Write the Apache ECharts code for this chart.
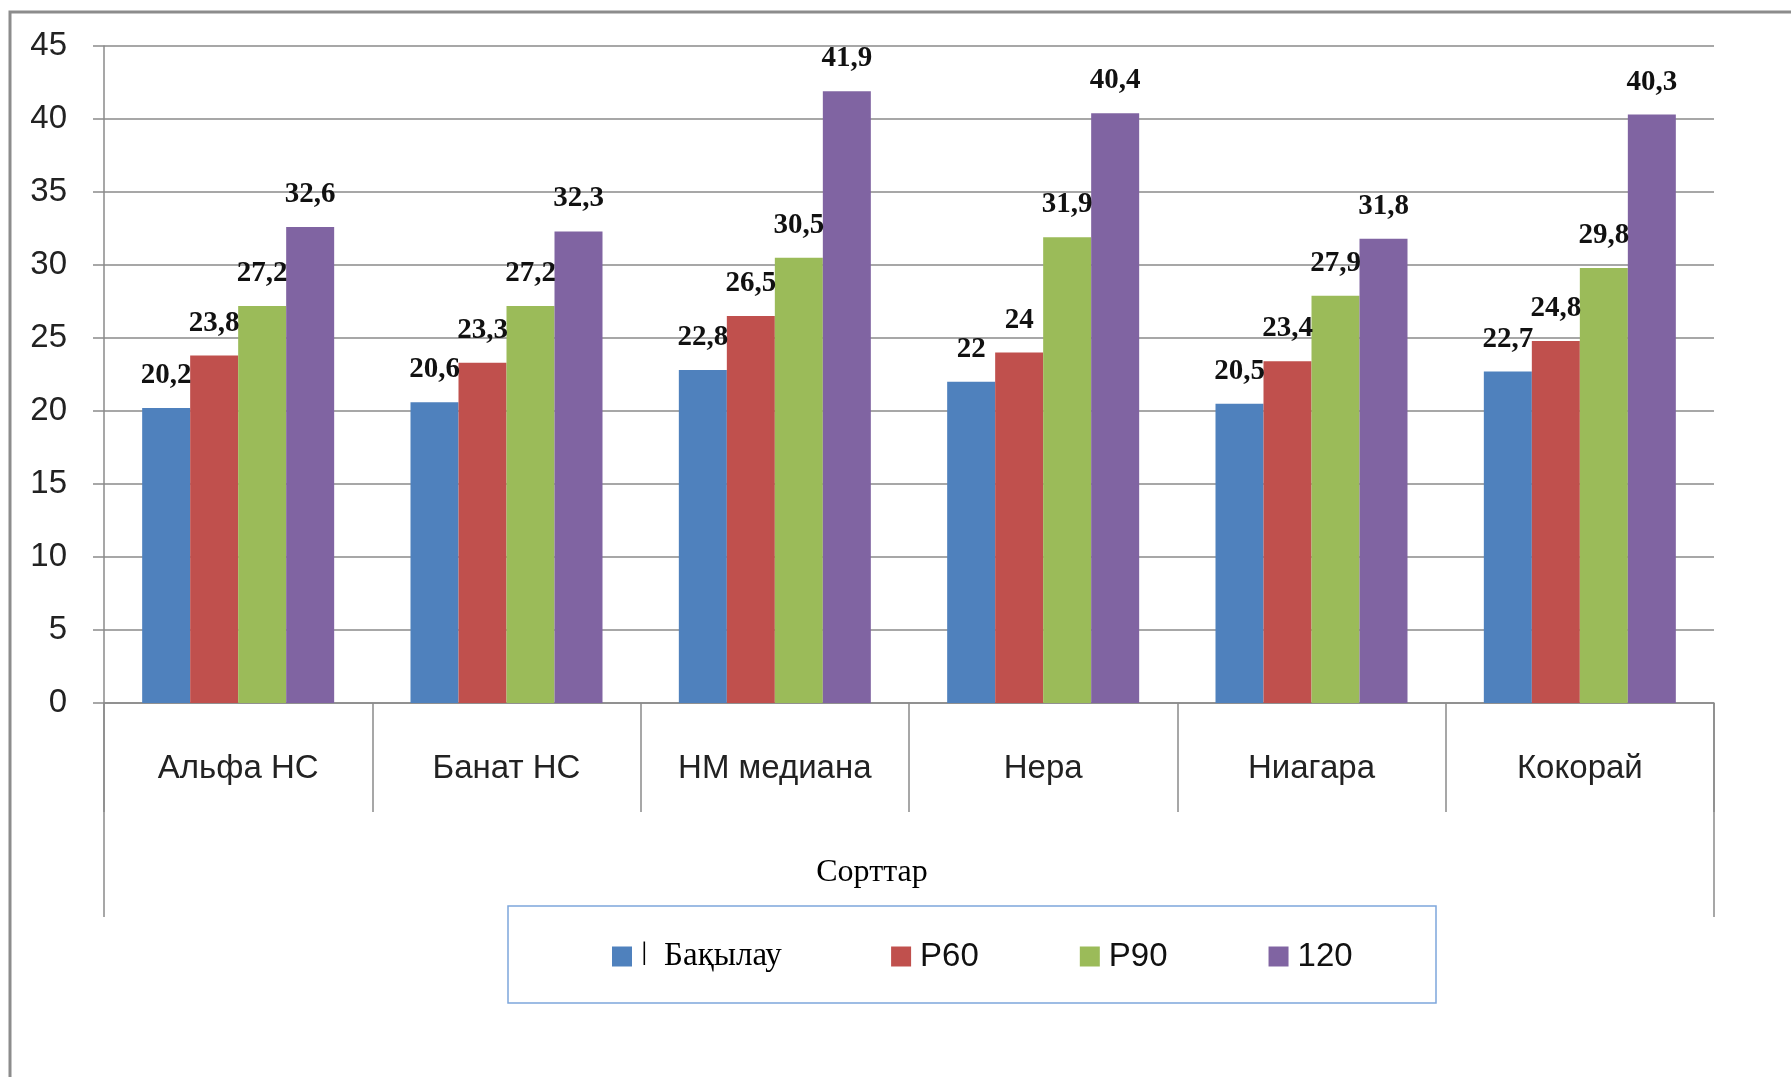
<!DOCTYPE html>
<html>
<head>
<meta charset="utf-8">
<script src="https://cdn.jsdelivr.net/npm/echarts@6/dist/echarts.min.js"></script>
<style>
html,body{margin:0;padding:0;background:#fff;}
#c{width:1791px;height:1077px;}
</style>
</head>
<body>
<div id="c"></div>
<script>
const categories = ['Альфа НС', 'Банат НС', 'НМ медиана', 'Нера', 'Ниагара', 'Кокорай'];
const seriesNames = ['ǀ  Бақылау', 'P60', 'P90', '120'];
const control = [20.2, 20.6, 22.8, 22, 20.5, 22.7];
const p60 = [23.8, 23.3, 26.5, 24, 23.4, 24.8];
const p90 = [27.2, 27.2, 30.5, 31.9, 27.9, 29.8];
const v120 = [32.6, 32.3, 41.9, 40.4, 31.8, 40.3];
const yTicks = [0, 5, 10, 15, 20, 25, 30, 35, 40, 45];
const colors = ['#4F81BD', '#C0504D', '#9BBB59', '#8064A2'];

const chart = echarts.init(document.getElementById('c'), null, {renderer: 'canvas'});
const sansFont = '"Liberation Sans", Arial, sans-serif';
const serifFont = '"Liberation Serif", "Times New Roman", serif';
const gridColor = '#8a8a8a';

function mkSeries(name, data, i) {
  return {
    name: name,
    type: 'bar',
    data: data,
    barWidth: 48,
    barGap: '0%',
    itemStyle: {color: colors[i]},
    label: {
      show: true,
      position: 'top',
      distance: 18,
      fontFamily: serifFont,
      fontSize: 29,
      fontWeight: 'bold',
      color: '#111',
      formatter: p => String(p.value).replace('.', ',')
    }
  };
}

const option = {
  animation: false,
  backgroundColor: '#fff',
  grid: {left: 104, right: 77, top: 46, bottom: 374, containLabel: false},
  xAxis: {
    type: 'category',
    data: categories,
    name: 'Сорттар',
    nameLocation: 'middle',
    nameGap: 154,
    nameTextStyle: {fontFamily: serifFont, fontSize: 32, color: '#000', padding: [0, 74, 0, 0]},
    axisLine: {show: true, lineStyle: {color: gridColor, width: 1.5}},
    axisTick: {show: true, length: 109, inside: false, interval: 0, alignWithLabel: false, lineStyle: {color: gridColor, width: 1.5}},
    axisLabel: {interval: 0, margin: 49, fontFamily: sansFont, fontSize: 33, color: '#222'},
    splitLine: {show: false}
  },
  yAxis: {
    type: 'value',
    min: yTicks[0],
    max: yTicks[yTicks.length - 1],
    interval: yTicks[1] - yTicks[0],
    axisLine: {show: true, lineStyle: {color: gridColor, width: 1.5}},
    axisTick: {show: true, length: 11, inside: false, lineStyle: {color: gridColor, width: 1.5}},
    axisLabel: {margin: 37, fontFamily: sansFont, fontSize: 33, color: '#222'},
    splitLine: {show: true, lineStyle: {color: gridColor, width: 1.5}}
  },
  legend: {
    show: true,
    left: 612,
    top: 940,
    padding: 0,
    itemGap: 101,
    itemWidth: 20,
    itemHeight: 20,
    icon: 'rect',
    data: seriesNames,
    formatter: n => (n === seriesNames[0] ? '{s|' + n + '\u00a0}' : '{n|' + n + '}'),
    textStyle: {
      padding: [0, 0, 0, 4],
      rich: {
        s: {fontFamily: serifFont, fontSize: 33, color: '#000'},
        n: {fontFamily: sansFont, fontSize: 33, color: '#111'}
      }
    }
  },
  graphic: [
    {type: 'rect', silent: true, shape: {x: 10, y: 12, width: 1800, height: 1090}, style: {fill: null, stroke: '#8c8c8c', lineWidth: 3}},
    {type: 'line', silent: true, shape: {x1: 104, y1: 703, x2: 104, y2: 917}, style: {stroke: gridColor, lineWidth: 1.5}},
    {type: 'line', silent: true, shape: {x1: 1714, y1: 703, x2: 1714, y2: 917}, style: {stroke: gridColor, lineWidth: 1.5}},
    {type: 'rect', silent: true, shape: {x: 508, y: 906, width: 928, height: 97}, style: {fill: null, stroke: '#7EA6DC', lineWidth: 1.5}}
  ],
  series: [
    mkSeries(seriesNames[0], control, 0),
    mkSeries(seriesNames[1], p60, 1),
    mkSeries(seriesNames[2], p90, 2),
    mkSeries(seriesNames[3], v120, 3)
  ]
};
chart.setOption(option);
</script>
</body>
</html>
